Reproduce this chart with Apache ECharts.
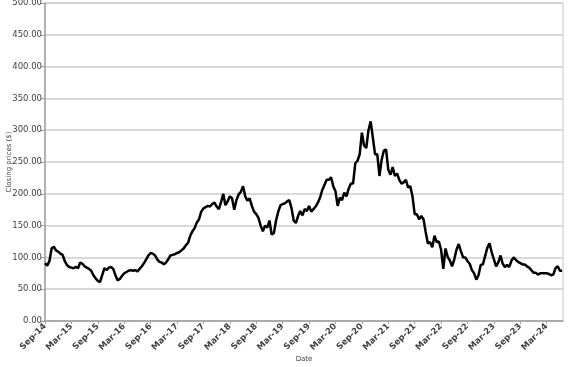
<!DOCTYPE html>
<html>
<head>
<meta charset="utf-8">
<script src="https://cdn.jsdelivr.net/npm/echarts@6/dist/echarts.min.js"></script>
<style>
html,body{margin:0;padding:0;background:#fff;}
#chart{width:577px;height:367px;}
</style>
</head>
<body>
<div id="chart"></div>
<script>
// Half-monthly closing prices starting Sep-14 (index 0), step = half a month
const startLabel = { month: 8, year: 2014 }; // Sep-14
const monthNames = ['Jan','Feb','Mar','Apr','May','Jun','Jul','Aug','Sep','Oct','Nov','Dec'];
const closingPrices = [
 91,87,94,114,117,111,109,106,104,94,88,85,84,83,85,83,92,90,86,84,
 82,79,72,67,63,61,72,83,80,84,85,82,72,64,66,71,75,77,79,80,
 79,80,78,82,86,91,97,103,107,106,103,97,93,92,89,92,97,103,104,105,
 107,108,111,114,119,123,134,141,146,155,160,172,177,179,181,180,184,186,180,176,
 187,200,182,188,196,193,175,190,199,203,212,196,189,193,181,172,168,162,150,141,
 150,147,158,136,138,158,172,182,184,185,188,190,178,158,154,165,173,166,176,173,
 181,172,176,180,186,194,206,214,222,222,226,212,204,181,194,190,202,196,208,216,
 216,248,252,262,296,276,272,300,314,288,262,262,228,254,268,270,238,230,242,228,
 232,222,216,218,222,210,212,196,168,168,160,165,160,140,122,124,116,134,124,125,
 112,82,114,101,95,86,97,112,121,110,100,100,94,90,80,75,65,72,88,89,
 102,115,122,108,97,86,92,103,90,85,88,85,95,100,96,93,91,89,89,86,
 84,80,76,76,73,75,75,75,75,74,72,73,83,86,79,79
];
const yAxisTitle = 'Closing prices ($)';
const xAxisTitle = 'Date';
const xMaxMonths = 117.7;

const seriesData = closingPrices.map((v, i) => [i * 0.5, v]);

function monthLabel(m) {
  const total = startLabel.month + Math.round(m);
  const mon = monthNames[total % 12];
  const yr = (startLabel.year + Math.floor(total / 12)) % 100;
  return mon + '-' + String(yr).padStart(2, '0');
}

const chart = echarts.init(document.getElementById('chart'), null, { renderer: 'canvas' });
chart.setOption({
  animation: false,
  backgroundColor: '#ffffff',
  grid: { left: 45, right: 14, top: 3, bottom: 46, containLabel: false, outerBoundsMode: 'none',
          show: true, borderColor: '#c8c8c8', borderWidth: 1 },
  xAxis: {
    type: 'value',
    min: 0,
    max: xMaxMonths,
    interval: 6,
    name: xAxisTitle,
    nameLocation: 'middle',
    nameGap: 35,
    nameMoveOverlap: false,
    nameTextStyle: { fontFamily: 'DejaVu Sans', fontSize: 7, color: '#404040' },
    axisLine: { show: true, lineStyle: { color: '#a0a0a0', width: 1.5 } },
    axisTick: { show: true, length: 3, lineStyle: { color: '#a0a0a0' } },
    splitLine: { show: false },
    axisLabel: {
      rotate: 45,
      margin: 4,
      showMaxLabel: false,
      fontFamily: 'DejaVu Sans',
      fontSize: 8.5,
      fontWeight: 'bold',
      color: '#404040',
      formatter: v => (Math.abs(v / 6 - Math.round(v / 6)) < 1e-6 ? monthLabel(v) : '')
    }
  },
  yAxis: {
    type: 'value',
    min: 0,
    max: 500,
    interval: 50,
    name: yAxisTitle,
    nameLocation: 'middle',
    nameGap: 32,
    nameMoveOverlap: false,
    nameTextStyle: { fontFamily: 'DejaVu Sans', fontSize: 7, color: '#404040' },
    axisLine: { show: true, lineStyle: { color: '#a0a0a0', width: 1.5 } },
    axisTick: { show: true, length: 4, lineStyle: { color: '#a0a0a0' } },
    splitLine: { show: true, lineStyle: { color: '#cccccc', width: 1.5 } },
    axisLabel: {
      margin: 3,
      fontFamily: 'DejaVu Sans',
      fontSize: 8.5,
      color: '#404040',
      formatter: v => v.toFixed(2)
    }
  },
  series: [{
    type: 'line',
    data: seriesData,
    showSymbol: false,
    lineStyle: { color: '#000000', width: 2.5 },
    itemStyle: { color: '#000000' }
  }]
});
</script>
</body>
</html>
